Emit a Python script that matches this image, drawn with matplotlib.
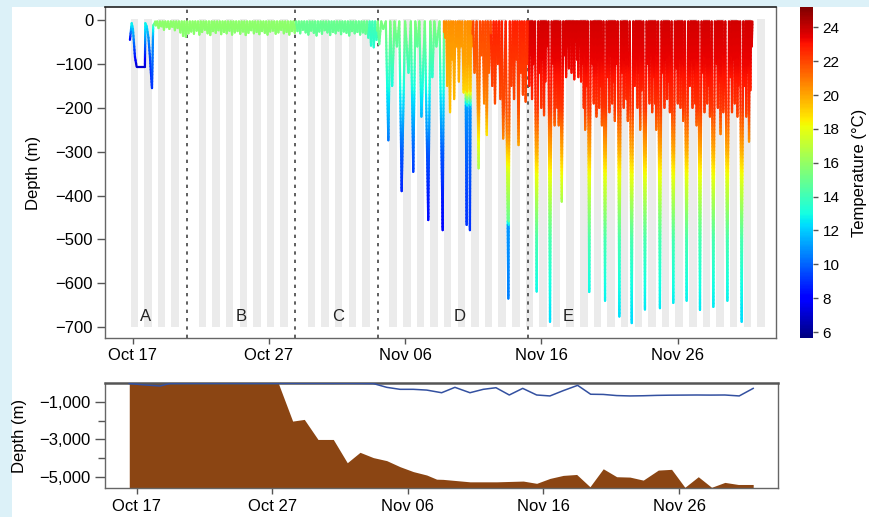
import numpy as np
import matplotlib
matplotlib.use("Agg")
import matplotlib.pyplot as plt
from matplotlib.collections import LineCollection
from matplotlib.colors import Normalize
from matplotlib.patches import Rectangle
from matplotlib.cm import ScalarMappable
from matplotlib.ticker import FuncFormatter

plt.rcParams['font.family'] = ['Liberation Sans', 'DejaVu Sans']

# ---------------- data (time = days after 17 Oct 00:00) ----------------
tick_days = [0, 10, 20, 30, 40]
tick_labels = ['Oct 17', 'Oct 27', 'Nov 06', 'Nov 16', 'Nov 26']

period_labels = ['A', 'B', 'C', 'D', 'E']
period_label_days = [0.98, 8.0, 15.05, 24.0, 32.0]
period_bounds = [3.96, 11.95, 17.99, 29.05]

n_nights = 47
missing_nights = [4, 12, 18]

# Period A: explicit track with temperatures
a_t = [-0.20, -0.07, 0.02, 0.17, 0.29, 0.90, 0.93, 1.03, 1.16, 1.27, 1.34, 1.42, 1.49, 1.51, 1.64]
a_z = [-45, -7, -20, -84, -106, -106, -7, -14, -40, -84, -120, -155, -40, -12, -5]
a_temp = [7.5, 13, 12, 8.5, 7, 7, 13, 12.5, 11, 9.5, 9, 9, 11, 13.5, 15.8]

# Periods A-C: near-surface excursions every 0.2 d from day 1.7
band_start = 1.7
band_z = [-12, -18, -14, -22, -16, -20, -15, -23, -18,
          -28, -36, -38, -30,
          -26, -31, -24, -33, -27, -22, -30, -34, -25, -29,
          -23, -32, -27, -30, -24, -33, -28, -25, -31, -26,
          -34, -29, -23, -30, -27, -32, -25, -29, -33, -26,
          -24, -31, -28, -22, -30, -27, -33, -25, -29,
          -25, -30, -22, -28, -33, -24, -29, -35, -26, -31,
          -23, -28, -34, -27, -30, -24, -32, -26, -29, -35,
          -25, -30, -27, -33, -28, -31,
          -40, -58, -62, -45]

# Periods D-E: dive excursions (time, max depth)
exc_t = [18.10, 18.40, 18.77, 19.05, 19.40, 19.75, 20.25, 20.60, 20.90, 21.20, 21.70, 22.00, 22.30, 22.76,
         22.95, 23.10, 23.30, 23.45, 23.60, 23.80, 23.95, 24.10, 24.30, 24.52, 24.64, 24.76, 24.90,
         25.10, 25.40, 25.60, 25.80, 26.00, 26.15,
         26.40, 26.60, 26.80, 27.00, 27.20, 27.58, 27.80, 28.00, 28.15, 28.33, 28.50, 28.65, 28.85, 29.00,
         29.12, 29.22, 29.32, 29.42, 29.66,
         29.90, 30.00, 30.10, 30.20, 30.30, 30.40, 30.64,
         30.88, 30.98, 31.08, 31.18, 31.28, 31.50,
         31.72, 31.82, 31.92, 32.02, 32.12, 32.22, 32.32, 32.42, 32.52, 32.62, 32.72, 32.82, 32.92, 33.02,
         33.12, 33.22, 33.32, 33.52,
         33.75, 33.85, 33.95, 34.05, 34.15, 34.25, 34.35, 34.45, 34.68,
         34.90, 35.00, 35.10, 35.20, 35.30, 35.40, 35.50, 35.73,
         35.95, 36.05, 36.15, 36.25, 36.35, 36.64,
         36.86, 36.96, 37.06, 37.16, 37.26, 37.36, 37.61,
         37.84, 37.94, 38.04, 38.14, 38.24, 38.34, 38.44, 38.71,
         38.94, 39.04, 39.14, 39.24, 39.34, 39.44, 39.69,
         39.92, 40.02, 40.12, 40.22, 40.32, 40.42, 40.67,
         40.90, 41.00, 41.10, 41.20, 41.30, 41.40, 41.65,
         41.88, 41.98, 42.08, 42.18, 42.28, 42.38, 42.63,
         42.86, 42.96, 43.06, 43.16, 43.26, 43.36, 43.66,
         43.90, 44.00, 44.10, 44.20, 44.30, 44.40, 44.48, 44.71,
         44.95, 45.05, 45.15, 45.25, 45.35, 45.45]
exc_z = [-55, -20, -274, -150, -60, -390, -120, -346, -60, -220, -456, -130, -60, -479,
         -40, -150, -210, -90, -180, -60, -140, -60, -165, -467, -100, -479, -60,
         -120, -338, -80, -190, -262, -120,
         -150, -190, -100, -180, -270, -635, -150, -180, -90, -285, -120, -170, -186, -100,
         -150, -80, -180, -100, -619,
         -120, -200, -90, -217, -140, -60, -688,
         -100, -240, -130, -200, -240, -414,
         -80, -130, -60, -110, -40, -120, -70, -135, -50, -90, -130, -60, -140, -100,
         -200, -250, -150, -620,
         -100, -190, -120, -220, -90, -200, -150, -240, -640,
         -130, -210, -80, -190, -140, -230, -100, -676,
         -120, -200, -90, -180, -230, -691,
         -150, -80, -200, -120, -250, -160, -660,
         -100, -190, -70, -210, -130, -190, -250, -657,
         -120, -200, -90, -180, -140, -210, -645,
         -110, -190, -80, -200, -130, -230, -640,
         -150, -90, -200, -110, -190, -240, -661,
         -120, -210, -80, -190, -150, -220, -654,
         -100, -200, -140, -260, -120, -210, -640,
         -130, -210, -90, -190, -140, -220, -150, -688,
         -150, -220, -120, -277, -160, -60]

# Temperature-depth profiles (depth m, deg C) and the day each applies from
phase_start = [1.5, 12.0, 17.3, 17.95, 22.85, 24.2, 24.95, 26.3, 29.1]
lev_B1, tmp_B1 = [0, 60], [15.9, 15.6]
lev_B2, tmp_B2 = [0, 60], [15.0, 14.7]
lev_B3, tmp_B3 = [0, 70], [14.2, 13.3]
lev_D1, tmp_D1 = [0, 50, 100, 150, 200, 300, 400, 500], [15.5, 14.8, 14.0, 13.0, 12.0, 9.8, 8.6, 8.0]
lev_D2, tmp_D2 = [0, 100, 200, 300, 400, 500], [20.5, 20.0, 19.5, 15.0, 11.0, 9.5]
lev_D3, tmp_D3 = [0, 100, 160, 200, 300, 400, 500], [20.5, 20.0, 19.0, 11.0, 10.0, 9.3, 9.0]
lev_D4, tmp_D4 = [0, 100, 200, 300, 400], [22.0, 21.5, 20.5, 17.5, 15.0]
lev_D5, tmp_D5 = [0, 100, 200, 260, 350, 455, 470, 650], [22.8, 22.3, 21.8, 20.8, 17.5, 15.0, 11.0, 10.5]
lev_E, tmp_E = ([0, 100, 200, 250, 300, 350, 400, 450, 500, 600, 700],
                [23.8, 23.3, 22.3, 21.0, 19.8, 18.2, 16.8, 15.5, 14.2, 13.0, 12.2])

# Bottom panel: seafloor depth and daily max dive depth
bathy_t = [-0.55, 0.45, 1.45, 2.45, 3.45, 4.45, 5.45, 6.45, 7.45, 8.45, 9.45, 10.44, 11.5, 12.36,
           13.37, 14.5, 15.53, 16.47, 17.45, 18.44, 19.42, 20.4, 21.39, 22.12, 22.59, 24.58, 26.55,
           28.51, 29.5, 30.48, 31.46, 32.45, 33.43, 34.41, 35.4, 36.38, 37.36, 38.47, 39.45, 40.43,
           41.42, 42.4, 43.38, 44.37, 45.47]
bathy_z = [-20, -20, -20, -20, -20, -20, -20, -20, -20, -20, -20, -20, -2030, -1940,
           -3000, -3000, -4230, -3680, -3960, -4120, -4440, -4700, -4880, -5100, -5110, -5240, -5240,
           -5200, -5320, -5060, -4900, -4850, -5500, -4550, -4970, -4990, -5150, -4620, -4580, -5530,
           -4970, -5530, -5270, -5380, -5380]
maxd_t = [-0.55, 0.45, 1.72, 2.46, 3.45, 4.45, 5.45, 6.45, 7.45, 8.45, 9.45, 10.45, 11.45, 12.45,
          13.45, 14.45, 15.45, 16.45, 17.45, 18.44, 19.42, 20.4, 21.39, 22.49, 23.47, 24.58, 25.56,
          26.5, 27.48, 28.47, 29.5, 30.48, 31.46, 32.52, 33.48, 34.41, 35.4, 36.38, 37.36, 38.35,
          39.3, 40.3, 41.3, 42.3, 43.38, 44.44, 45.47]
maxd_z = [-40, -110, -175, -40, -35, -30, -30, -28, -30, -32, -30, -30, -28, -30,
          -30, -32, -30, -35, -45, -245, -350, -350, -390, -530, -245, -530, -350,
          -265, -650, -300, -650, -700, -420, -140, -610, -620, -680, -700, -690, -670,
          -660, -655, -650, -655, -650, -700, -300]

# ---------------- helpers ----------------
profiles = [(lev_B1, tmp_B1), (lev_B2, tmp_B2), (lev_B3, tmp_B3), (lev_D1, tmp_D1), (lev_D2, tmp_D2),
            (lev_D3, tmp_D3), (lev_D4, tmp_D4), (lev_D5, tmp_D5), (lev_E, tmp_E)]


def temp_at(t, z):
    i = max(0, int(np.searchsorted(phase_start, t, side='right')) - 1)
    lev, tmp = profiles[i]
    return float(np.interp(-z, lev, tmp))


def track_vertices(ts, zs, surf=-3.0):
    vt, vz = [], []
    prev = ts[0] - 0.1
    for t, z in zip(ts, zs):
        vt += [(prev + t) / 2, t]
        vz += [surf, z]
        prev = t
    vt.append(prev + 0.05)
    vz.append(surf)
    return vt, vz


def split_segments(vt, vz, tfunc, step=8.0):
    segs, vals = [], []
    for i in range(len(vt) - 1):
        n = max(1, int(np.ceil(abs(vz[i + 1] - vz[i]) / step)))
        for k in range(n):
            f0, f1 = k / n, (k + 1) / n
            p0 = (vt[i] + f0 * (vt[i + 1] - vt[i]), vz[i] + f0 * (vz[i + 1] - vz[i]))
            p1 = (vt[i] + f1 * (vt[i + 1] - vt[i]), vz[i] + f1 * (vz[i + 1] - vz[i]))
            segs.append([p0, p1])
            vals.append(tfunc(i, 0.5 * (f0 + f1), 0.5 * (p0[0] + p1[0]), 0.5 * (p0[1] + p1[1])))
    return segs, vals


# ---------------- figure ----------------
W, H = 870, 517
fig = plt.figure(figsize=(W / 100, H / 100), dpi=100, facecolor='#dcf1f8')
fig.patches.append(Rectangle((12 / W, 0), 1, 1 - 7 / H, transform=fig.transFigure,
                             facecolor='white', edgecolor='none', zorder=-10))

ax = fig.add_axes([105 / W, 1 - 338 / H, 671 / W, 331 / H])
cax = fig.add_axes([800 / W, 1 - 338 / H, 12.7 / W, 331 / H])
ax2 = fig.add_axes([105 / W, 1 - 488.3 / H, 673 / W, 105.6 / H])

norm = Normalize(5.65, 25.2)
cmap = plt.get_cmap('jet')

# night stripes
night_start = [k - 0.15 for k in range(n_nights) if k not in missing_nights]
ax.bar(night_start, 703, bottom=-700, width=0.55, align='edge', color='#ebebeb', lw=0, zorder=1)

for b in period_bounds:
    ax.axvline(b, color='#444444', lw=1.2, ls=(0, (2, 3)), zorder=2)

# period A track
segA, valA = split_segments(a_t, a_z, lambda i, f, t, z: a_temp[i] + f * (a_temp[i + 1] - a_temp[i]))
lcA = LineCollection(segA, cmap=cmap, norm=norm, linewidths=1.6, capstyle='round', zorder=3)
lcA.set_array(np.array(valA))
ax.add_collection(lcA)

# main track
band_t = [band_start + 0.2 * i for i in range(len(band_z))]
vt, vz = track_vertices(band_t + exc_t, band_z + exc_z)
segM, valM = split_segments(vt, vz, lambda i, f, t, z: temp_at(t, z))
lcM = LineCollection(segM, cmap=cmap, norm=norm, linewidths=1.6, capstyle='round', zorder=3)
lcM.set_array(np.array(valM))
ax.add_collection(lcM)

for lab, d in zip(period_labels, period_label_days):
    ax.text(d, -676, lab, ha='center', va='center', fontsize=12, color='#222222', zorder=5)

ax.set_xlim(-2.03, 47.23)
ax.set_ylim(-725, 30)
ax.set_yticks([0, -100, -200, -300, -400, -500, -600, -700])
ax.set_xticks(tick_days, tick_labels)
ax.tick_params(axis='x', length=4, width=1, color='#555555', pad=3.5, labelsize=12)
ax.tick_params(axis='y', length=5.8, width=1, color='#555555', pad=2.7, labelsize=12)
for s in ax.spines.values():
    s.set_color('#666666')
    s.set_linewidth(1.0)
ax.spines['top'].set_color('#222222')
ax.spines['top'].set_linewidth(1.2)

# colorbar
sm = ScalarMappable(norm=norm, cmap=cmap)
cb = fig.colorbar(sm, cax=cax, ticks=list(range(6, 25, 2)))
cb.outline.set_visible(False)
cax.tick_params(length=3.6, width=1, color='#555555', pad=3.6, labelsize=11)

fig.text(860 / W, 1 - 172.5 / H, 'Temperature (°C)', rotation=90, ha='center', va='center', fontsize=12)
fig.text(33.5 / W, 1 - 172.5 / H, 'Depth (m)', rotation=90, ha='center', va='center', fontsize=12)
fig.text(20 / W, 1 - 435.5 / H, 'Depth (m)', rotation=90, ha='center', va='center', fontsize=12)

# bottom panel
ax2.fill_between(bathy_t, bathy_z, -5600, color='#8b4513', lw=0, zorder=2)
ax2.plot(maxd_t, maxd_z, color='#3350a0', lw=1.1, zorder=3)
ax2.set_xlim(-2.34, 47.3)
ax2.set_ylim(-5582, 0)
ax2.set_yticks([-1000, -3000, -5000])
ax2.set_yticks([-2000, -4000], minor=True)
ax2.yaxis.set_major_formatter(FuncFormatter(lambda v, p: f"{v:,.0f}".replace('-', '\u2212')))
ax2.set_xticks(tick_days, tick_labels)
ax2.tick_params(axis='x', length=4, width=1, color='#555555', pad=3.5, labelsize=12)
ax2.tick_params(axis='y', which='major', length=7, width=1, color='#555555', pad=3.6, labelsize=12)
ax2.tick_params(axis='y', which='minor', length=4.8, width=1, color='#555555')
for s in ax2.spines.values():
    s.set_color('#666666')
    s.set_linewidth(1.0)
ax2.spines['top'].set_linewidth(1.8)
ax2.spines['top'].set_color('#555555')

fig.savefig('out.png', dpi=100, facecolor=fig.get_facecolor())
